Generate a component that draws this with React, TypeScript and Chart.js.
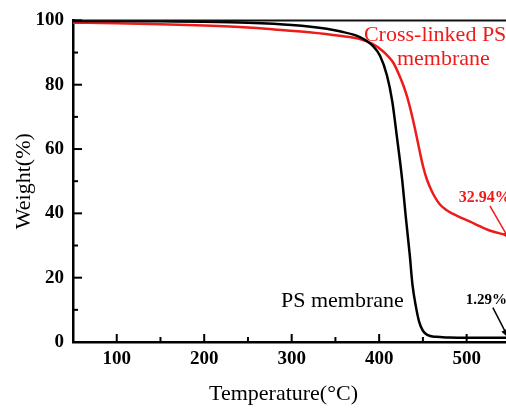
import React, { useEffect, useRef } from "react";
import { Chart, registerables } from "chart.js";

Chart.register(...registerables);

// Temperature (°C) and weight (%)
const psTemp = [50, 100, 150, 200, 250, 300, 340, 355, 378, 393, 401, 409, 415, 420, 426, 431, 435, 438, 442, 446, 450, 455, 465, 480, 500, 545];
const psWeight = [99.8, 99.8, 99.7, 99.6, 99.3, 98.6, 97.4, 96.6, 94.8, 92.0, 89.0, 82.8, 74.8, 64.4, 51.2, 37.4, 27, 18, 11, 6, 3.5, 2.2, 1.6, 1.4, 1.3, 1.29];

const xlTemp = [50, 100, 150, 200, 250, 280, 320, 355, 378, 393, 404, 410, 416, 422, 427.5, 432, 437, 441, 444.6, 447.5, 450.3, 454, 458, 463, 469, 476, 484, 494, 504, 515, 527, 545];
const xlWeight = [99.3, 99.1, 98.8, 98.4, 97.8, 97.2, 96.3, 95.2, 94.2, 92.6, 90.5, 88.9, 86.9, 83.6, 79.9, 76.2, 71.0, 66.2, 61.6, 57.8, 54.5, 51.0, 48.2, 45.4, 42.9, 41.2, 39.9, 38.6, 37.4, 36.0, 34.6, 33.3];

const xTickLabels = [100, 200, 300, 400, 500];
const yTickLabels = [0, 20, 40, 60, 80, 100];

const RED = "#ee1b1b";
const SERIF = "'Liberation Serif', 'Times New Roman', serif";

const decorPlugin = {
  id: "decor",
  afterDraw(chart: any) {
    const { ctx, chartArea } = chart;
    const xs = chart.scales.x;
    const ys = chart.scales.y;
    const X = (v: number) => xs.getPixelForValue(v);
    const Y = (v: number) => ys.getPixelForValue(v);
    ctx.save();
    // top frame line
    ctx.strokeStyle = "#111";
    ctx.lineWidth = 2;
    ctx.beginPath();
    ctx.moveTo(chartArea.left, chartArea.top);
    ctx.lineTo(chartArea.right + 2, chartArea.top);
    ctx.stroke();
    // inward ticks
    ctx.strokeStyle = "#000";
    ctx.lineWidth = 2;
    xs.ticks.forEach((t: any) => {
      const px = X(t.value);
      const len = xTickLabels.includes(t.value) ? 8 : 5;
      ctx.beginPath();
      ctx.moveTo(px, chartArea.bottom);
      ctx.lineTo(px, chartArea.bottom - len);
      ctx.stroke();
    });
    ys.ticks.forEach((t: any) => {
      const py = Y(t.value);
      const len = yTickLabels.includes(t.value) ? 9 : 5;
      ctx.beginPath();
      ctx.moveTo(chartArea.left, py);
      ctx.lineTo(chartArea.left + len, py);
      ctx.stroke();
    });
    // axis titles
    ctx.fillStyle = "#000";
    ctx.font = `22px ${SERIF}`;
    ctx.textAlign = "center";
    ctx.textBaseline = "alphabetic";
    ctx.fillText("Temperature(°C)", (chartArea.left + chartArea.right) / 2 - 6, 400);
    ctx.save();
    ctx.translate(30, (chartArea.top + chartArea.bottom) / 2);
    ctx.rotate(-Math.PI / 2);
    ctx.fillText("Weight(%)", 0, 0);
    ctx.restore();
    // series labels
    ctx.textAlign = "left";
    ctx.fillStyle = "#000";
    ctx.fillText("PS membrane", X(287.7), Y(11.0));
    ctx.fillStyle = RED;
    ctx.fillText("Cross-linked PS", X(382.6), Y(93.6));
    ctx.fillText("membrane", X(420.3), Y(86.2));
    // value annotations
    ctx.font = `bold 16px ${SERIF}`;
    ctx.fillText("32.94%", X(491), Y(43.6));
    ctx.fillStyle = "#000";
    ctx.font = `bold 15px ${SERIF}`;
    ctx.fillText("1.29%", X(499), Y(11.7));
    const arrow = (x0: number, y0: number, x1: number, y1: number, color: string) => {
      const ax = X(x0), ay = Y(y0), bx = X(x1), by = Y(y1);
      ctx.strokeStyle = color;
      ctx.fillStyle = color;
      ctx.lineWidth = 1.5;
      ctx.beginPath();
      ctx.moveTo(ax, ay);
      ctx.lineTo(bx, by);
      ctx.stroke();
      const ang = Math.atan2(by - ay, bx - ax);
      const hl = 9, hw = 3.5;
      ctx.beginPath();
      ctx.moveTo(bx, by);
      ctx.lineTo(bx - hl * Math.cos(ang) + hw * Math.sin(ang), by - hl * Math.sin(ang) - hw * Math.cos(ang));
      ctx.lineTo(bx - hl * Math.cos(ang) - hw * Math.sin(ang), by - hl * Math.sin(ang) + hw * Math.cos(ang));
      ctx.closePath();
      ctx.fill();
    };
    arrow(526.6, 42.3, 549.4, 31.6, RED);
    arrow(530, 10.7, 548, 1.2, "#000");
    ctx.restore();
  },
};

export default function App() {
  const ref = useRef<HTMLCanvasElement>(null);
  useEffect(() => {
    if (!ref.current) return;
    const chart = new Chart(ref.current, {
      type: "line",
      data: {
        datasets: [
          {
            label: "PS membrane",
            data: psTemp.map((t, i) => ({ x: t, y: psWeight[i] })),
            borderColor: "#000",
            borderWidth: 2.5,
            pointRadius: 0,
            cubicInterpolationMode: "monotone",
          },
          {
            label: "Cross-linked PS membrane",
            data: xlTemp.map((t, i) => ({ x: t, y: xlWeight[i] })),
            borderColor: RED,
            borderWidth: 2.5,
            pointRadius: 0,
            cubicInterpolationMode: "monotone",
          },
        ],
      },
      options: {
        animation: false,
        responsive: false,
        devicePixelRatio: 1,
        layout: { padding: { top: 16, right: 0, left: 0, bottom: 0 } },
        plugins: { legend: { display: false }, tooltip: { enabled: false } },
        scales: {
          x: {
            type: "linear",
            min: 50,
            max: 545,
            afterFit: (s: any) => { s.height = 68; },
            border: { display: true, color: "#000", width: 2.5 },
            grid: { drawOnChartArea: false, drawTicks: false },
            ticks: {
              stepSize: 50,
              includeBounds: false,
              autoSkip: false,
              maxRotation: 0,
              padding: 6,
              color: "#000",
              font: { family: SERIF, size: 19, weight: "bold" },
              callback: (v: any) => (xTickLabels.includes(v) ? String(v) : ""),
            },
          },
          y: {
            min: 0,
            max: 100,
            afterFit: (s: any) => { s.width = 73; },
            border: { display: true, color: "#000", width: 2.5 },
            grid: { drawOnChartArea: false, drawTicks: false },
            ticks: {
              stepSize: 10,
              autoSkip: false,
              padding: 9,
              color: "#000",
              font: { family: SERIF, size: 19, weight: "bold" },
              callback: (v: any) => (yTickLabels.includes(v) ? String(v) : ""),
            },
          },
        },
      } as any,
      plugins: [decorPlugin],
    });
    return () => chart.destroy();
  }, []);
  return (
    <div style={{ position: "absolute", left: 0, top: 0, width: 506, height: 410, background: "#fff" }}>
      <canvas ref={ref} width={506} height={410} style={{ width: 506, height: 410, display: "block" }} />
    </div>
  );
}
